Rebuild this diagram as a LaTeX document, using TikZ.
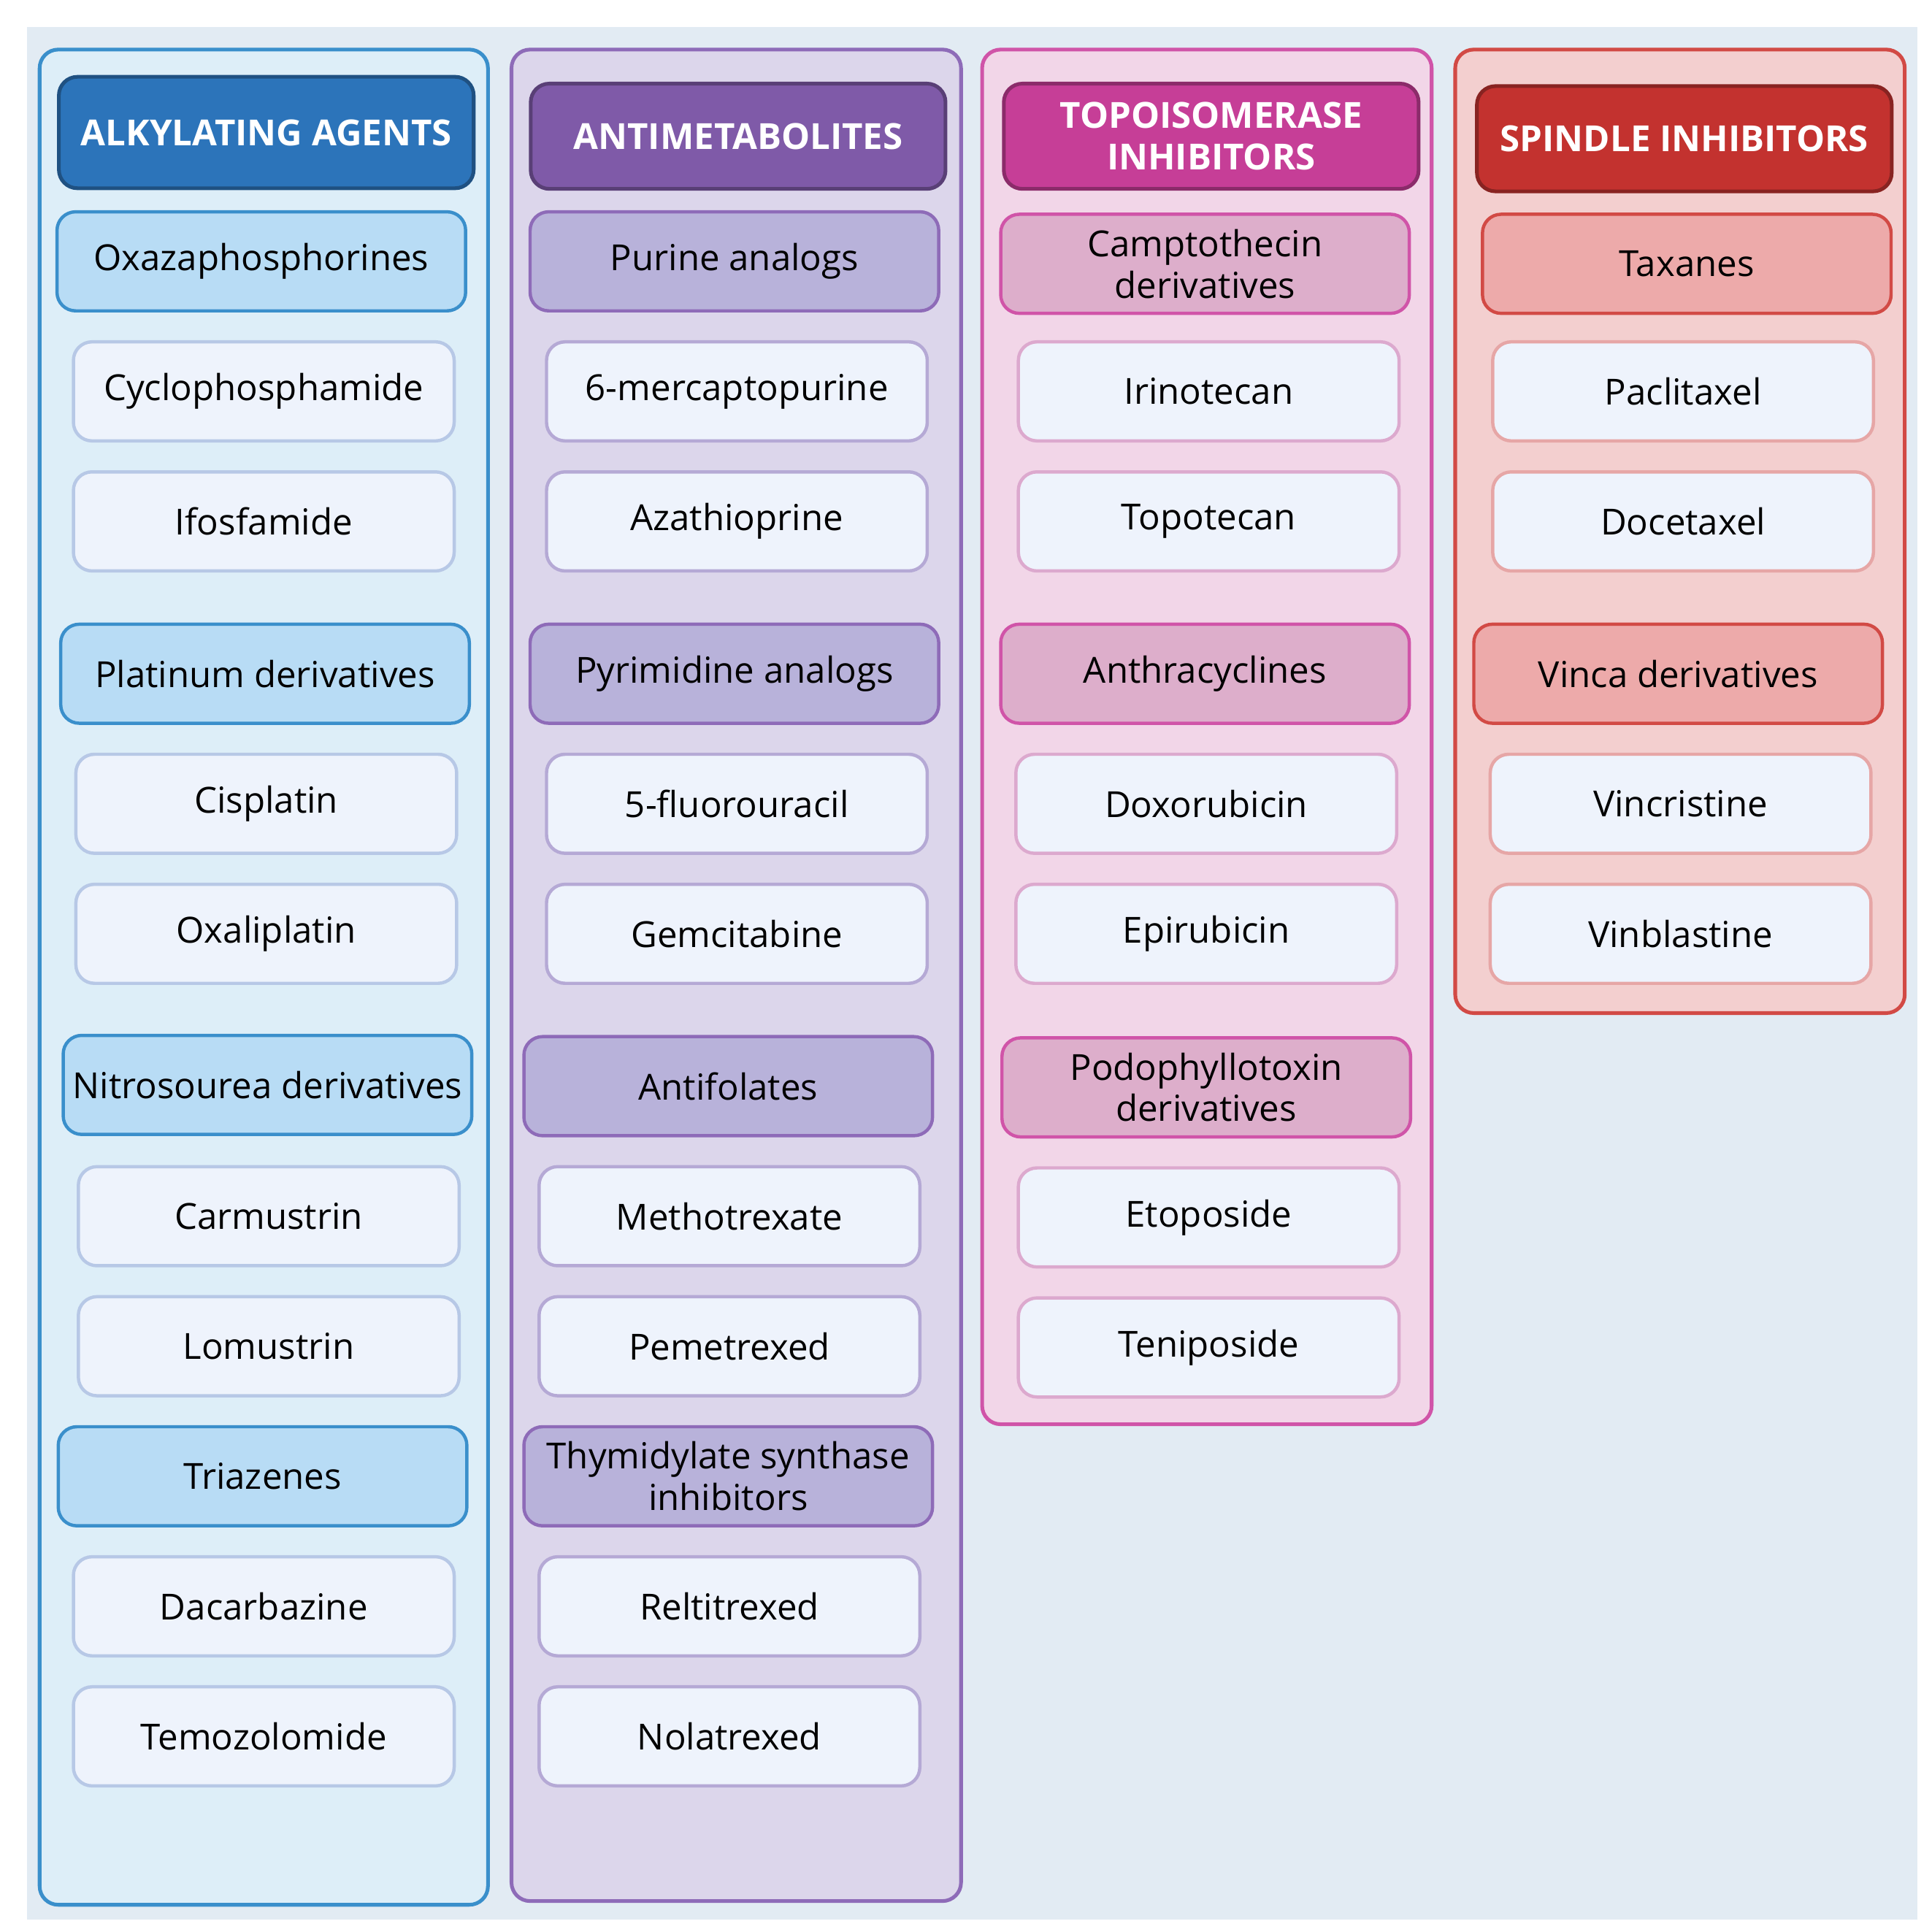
\documentclass[tikz,border=0pt]{standalone}
\usepackage{fontspec}
\setmainfont{Open Sans}
\definecolor{bgall}{HTML}{E2EBF3}
\definecolor{bluefill}{HTML}{DDEEF8}\definecolor{blueline}{HTML}{3A8FCB}
\definecolor{bluehead}{HTML}{2C74BA}\definecolor{bluecat}{HTML}{B8DCF5}
\definecolor{blueitem}{HTML}{B7C8E6}
\definecolor{purpfill}{HTML}{DCD6EB}\definecolor{purpline}{HTML}{8E6BB8}
\definecolor{purphead}{HTML}{7F5AA8}\definecolor{purpcat}{HTML}{B8B2DA}
\definecolor{purpitem}{HTML}{B5A9D5}
\definecolor{pinkfill}{HTML}{F2D6E8}\definecolor{pinkline}{HTML}{D054A8}
\definecolor{pinkhead}{HTML}{C63E97}\definecolor{pinkcat}{HTML}{DDAECB}
\definecolor{pinkitem}{HTML}{DCA9CE}
\definecolor{redfill}{HTML}{F3CFCF}\definecolor{redline}{HTML}{D24A45}
\definecolor{redhead}{HTML}{C3322F}\definecolor{redcat}{HTML}{EDAAAA}
\definecolor{reditem}{HTML}{E6A6A6}
\definecolor{itemfill}{HTML}{EEF3FC}
\tikzset{
  column/.style={draw=#1line, fill=#1fill, line width=1.7pt, rounded corners=0.3cm},
  head/.style={draw=#1head!70!black, fill=#1head, line width=1.7pt, rounded corners=0.3cm,
    text=white, font=\fontsize{16.5}{19}\selectfont\bfseries, align=center, inner sep=0pt,
    minimum width=6.7cm, minimum height=1.7cm},
  cat/.style={draw=#1line, fill=#1cat, line width=1.5pt, rounded corners=0.3cm,
    font=\fontsize{16.5}{19}\selectfont, align=center, inner sep=0pt,
    minimum width=6.6cm, minimum height=1.6cm},
  item/.style={draw=#1item, fill=itemfill, line width=1.5pt, rounded corners=0.3cm,
    font=\fontsize{16.5}{19}\selectfont, minimum width=6.15cm, minimum height=1.6cm}
}
\begin{document}
\begin{tikzpicture}[x=0.02cm,y=-0.02cm]
\useasboundingbox (0,0) rectangle (1560,1560);
\fill[bgall] (22,22) rectangle (1548,1550);

% columns
\draw[column=blue] (32,40) rectangle (394,1538);
\draw[column=purp] (413,40) rectangle (776,1535);
\draw[column=pink] (793,40) rectangle (1156,1150);
\draw[column=red] (1175,40) rectangle (1538,818);

% alkylating agents
\node[head=blue, minimum height=1.8cm] (alk) at (215,107) {ALKYLATING AGENTS};
\node[cat=blue] (oxaz) at (211,211) {Oxazaphosphorines};
\node[item=blue] (cyclo) at (213,316) {Cyclophosphamide};
\node[item=blue] (ifos) at (213,421) {Ifosfamide};
\node[cat=blue] (plat) at (214,544) {Platinum derivatives};
\node[item=blue] (cispl) at (215,649) {Cisplatin};
\node[item=blue] (oxal) at (215,754) {Oxaliplatin};
\node[cat=blue] (nitro) at (216,876) {Nitrosourea derivatives};
\node[item=blue] (carm) at (217,982) {Carmustrin};
\node[item=blue] (lomu) at (217,1087) {Lomustrin};
\node[cat=blue] (triaz) at (212,1192) {Triazenes};
\node[item=blue] (dacar) at (213,1297) {Dacarbazine};
\node[item=blue] (temoz) at (213,1402) {Temozolomide};

% antimetabolites
\node[head=purp] (anti) at (596,110) {ANTIMETABOLITES};
\node[cat=purp] (purine) at (593,211) {Purine analogs};
\node[item=purp] (merc) at (595,316) {6-mercaptopurine};
\node[item=purp] (azat) at (595,421) {Azathioprine};
\node[cat=purp] (pyrim) at (593,544) {Pyrimidine analogs};
\node[item=purp] (fluor) at (595,649) {5-fluorouracil};
\node[item=purp] (gemc) at (595,754) {Gemcitabine};
\node[cat=purp] (folat) at (588,877) {Antifolates};
\node[item=purp] (meth) at (589,982) {Methotrexate};
\node[item=purp] (pemet) at (589,1087) {Pemetrexed};
\node[cat=purp] (thymi) at (588,1192) {Thymidylate synthase\\inhibitors};
\node[item=purp] (relt) at (589,1297) {Reltitrexed};
\node[item=purp] (nolat) at (589,1402) {Nolatrexed};

% topoisomerase inhibitors
\node[head=pink] (topo) at (978,110) {TOPOISOMERASE\\INHIBITORS};
\node[cat=pink] (campt) at (973,213) {Camptothecin\\derivatives};
\node[item=pink] (irino) at (976,316) {Irinotecan};
\node[item=pink] (topot) at (976,421) {Topotecan};
\node[cat=pink] (anthr) at (973,544) {Anthracyclines};
\node[item=pink] (doxo) at (974,649) {Doxorubicin};
\node[item=pink] (epir) at (974,754) {Epirubicin};
\node[cat=pink] (podo) at (974,878) {Podophyllotoxin\\derivatives};
\node[item=pink] (etop) at (976,983) {Etoposide};
\node[item=pink] (tenip) at (976,1088) {Teniposide};

% spindle inhibitors
\node[head=red] (spind) at (1360,112) {SPINDLE INHIBITORS};
\node[cat=red] (taxan) at (1362,213) {Taxanes};
\node[item=red] (pacl) at (1359,316) {Paclitaxel};
\node[item=red] (docet) at (1359,421) {Docetaxel};
\node[cat=red] (vinca) at (1355,544) {Vinca derivatives};
\node[item=red] (vincr) at (1357,649) {Vincristine};
\node[item=red] (vinbl) at (1357,754) {Vinblastine};
\end{tikzpicture}
\end{document}
